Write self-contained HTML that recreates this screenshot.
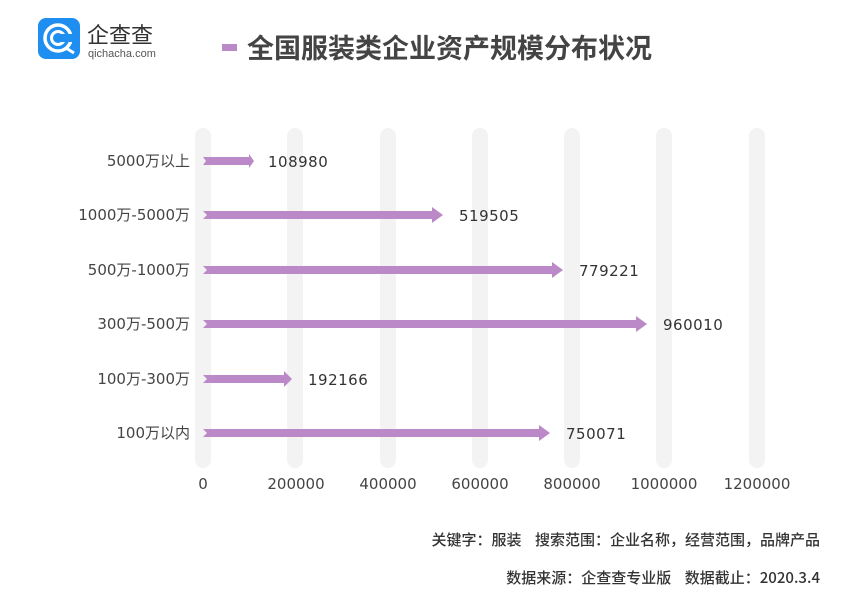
<!DOCTYPE html>
<html><head><meta charset="utf-8"><style>
body{margin:0;background:#fff;}
svg{display:block;font-family:"DejaVu Sans","Noto Sans CJK SC",sans-serif;}
.pre{white-space:pre;}
</style></head><body>
<svg width="862" height="596" viewBox="0 0 862 596" xmlns="http://www.w3.org/2000/svg">
<rect x="38" y="18" width="42" height="41" rx="8" fill="#1e8ff0"/>
<circle cx="58" cy="38" r="13" fill="none" stroke="#fff" stroke-width="3.5"/>
<circle cx="58" cy="38" r="6.5" fill="none" stroke="#fff" stroke-width="3"/>
<rect x="61" y="34" width="12" height="8" fill="#1e8ff0"/>
<path d="M66 48 L74 53" stroke="#fff" stroke-width="3"/>
<text x="87" y="43" font-size="22" fill="#333" font-family="Noto Sans CJK SC">企查查</text>
<text x="88" y="57" font-size="11" fill="#555" font-family="Liberation Sans">qichacha.com</text>
<rect x="222" y="44" width="15" height="7" fill="#bb88c8"/>
<text x="247" y="58" font-size="27" font-weight="bold" fill="#444" font-family="Noto Sans CJK SC">全国服装类企业资产规模分布状况</text>
<g fill="#f3f3f3">
<rect x="195" y="128" width="16" height="340" rx="8"/>
<rect x="287" y="128" width="16" height="340" rx="8"/>
<rect x="380" y="128" width="16" height="340" rx="8"/>
<rect x="472" y="128" width="16" height="340" rx="8"/>
<rect x="564" y="128" width="16" height="340" rx="8"/>
<rect x="656" y="128" width="16" height="340" rx="8"/>
<rect x="749" y="128" width="16" height="340" rx="8"/>
</g>
<g fill="#bb88c8">
<polygon points="203,157 249,157 249,154 254,161 249,168 249,165 203,165 206,161"/>
<polygon points="203,211 432,211 432,207 443,215 432,223 432,219 203,219 207,215"/>
<polygon points="203,266 552,266 552,262 563,270 552,278 552,274 203,274 207,270"/>
<polygon points="203,320 636,320 636,316 647,324 636,332 636,328 203,328 207,324"/>
<polygon points="203,375 284,375 284,371 292,379 284,387 284,383 203,383 207,379"/>
<polygon points="203,429 539,429 539,425 550,433 539,441 539,437 203,437 207,433"/>
</g>
<g font-size="15" fill="#333" letter-spacing="0.5">
<text x="268" y="167">108980</text>
<text x="459" y="221">519505</text>
<text x="579" y="276">779221</text>
<text x="663" y="330">960010</text>
<text x="308" y="385">192166</text>
<text x="566" y="439">750071</text>
</g>
<g font-size="15" fill="#444" text-anchor="end">
<text x="190" y="166">5000万以上</text>
<text x="190" y="220">1000万-5000万</text>
<text x="190" y="275">500万-1000万</text>
<text x="190" y="329">300万-500万</text>
<text x="190" y="384">100万-300万</text>
<text x="190" y="438">100万以内</text>
</g>
<g font-size="15" fill="#444" text-anchor="middle">
<text x="203" y="489">0</text>
<text x="296" y="489">200000</text>
<text x="388" y="489">400000</text>
<text x="480" y="489">600000</text>
<text x="572" y="489">800000</text>
<text x="664" y="489">1000000</text>
<text x="757" y="489">1200000</text>
</g>
<g font-size="15" fill="#333" text-anchor="end" font-family="Noto Sans CJK SC" font-weight="500">
<text class="pre" x="820" y="545">关键字：服装    搜索范围：企业名称，经营范围，品牌产品</text>
<text class="pre" x="820" y="583">数据来源：企查查专业版    数据截止：2020.3.4</text>
</g>
</svg>
</body></html>
